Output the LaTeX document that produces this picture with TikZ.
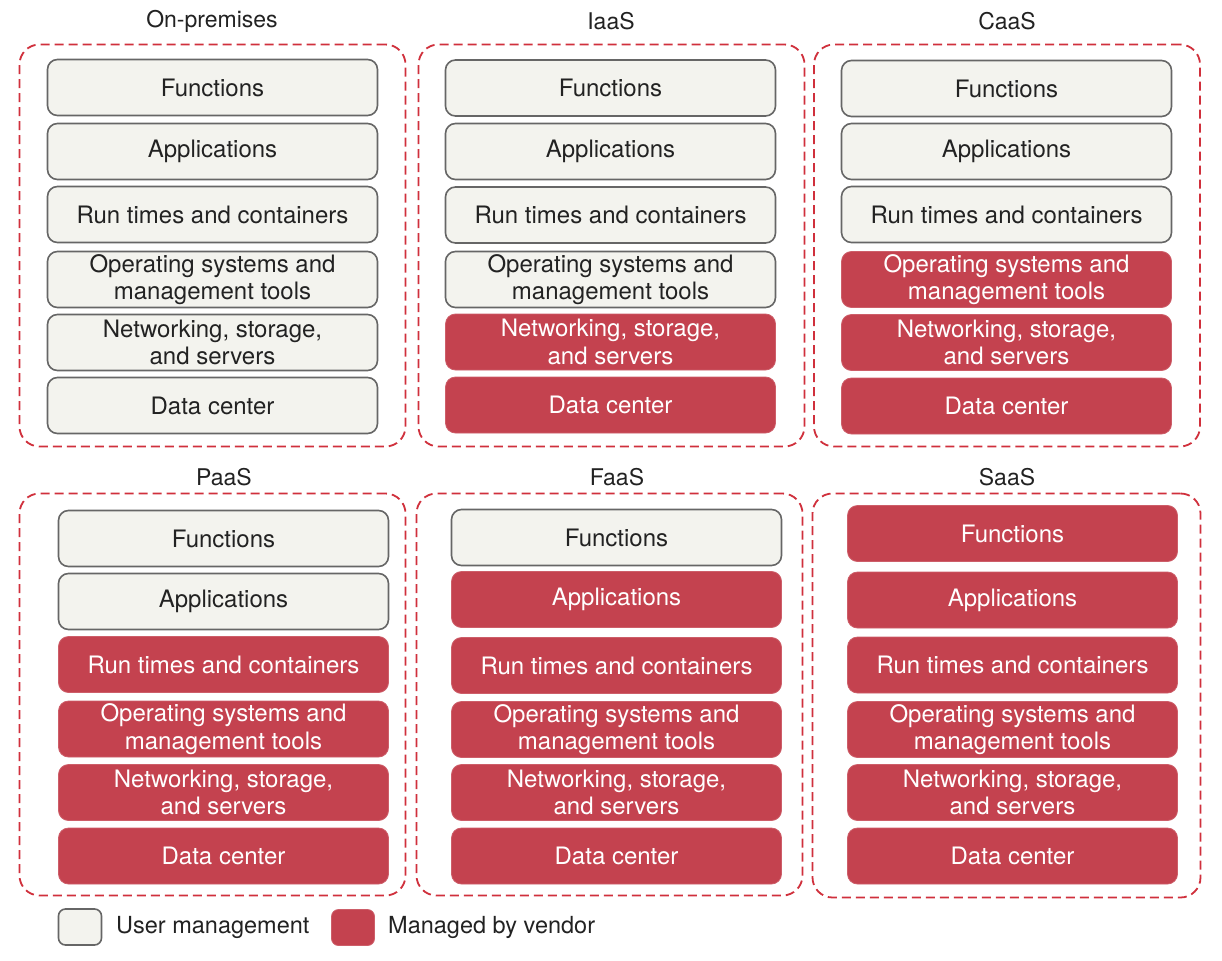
\documentclass[tikz,border=0pt]{standalone}
\usepackage{fontspec}
\setmainfont{TeX Gyre Heros}
\definecolor{vred}{HTML}{C4424F}
\definecolor{ufill}{HTML}{F3F3EE}
\definecolor{ugray}{HTML}{666666}
\definecolor{dred}{HTML}{D0303C}
\definecolor{txt}{HTML}{222222}
\tikzset{
  layer/.style={minimum width=330pt, minimum height=56pt, rounded corners=10pt, align=center, inner sep=0pt,
    font=\fontsize{24}{27.5}\selectfont},
  usr/.style={layer, fill=ufill, draw=ugray, line width=1.6pt, text=txt},
  vnd/.style={layer, fill=vred, draw=vred!85!white, line width=0.8pt, text=white},
  panel/.style={draw=dred, dash pattern=on 9pt off 5pt, line width=1.8pt, rounded corners=20pt,
    minimum width=386pt, minimum height=402pt, inner sep=0pt},
  ptitle/.style={font=\fontsize{23}{27}\selectfont, text=txt},
  legbox/.style={minimum width=43pt, minimum height=36pt, rounded corners=7pt, inner sep=0pt},
  legtext/.style={font=\fontsize{23.5}{27.5}\selectfont, text=txt, anchor=west, inner sep=0pt},
}
\def\tFun{Functions}
\def\tApp{Applications}
\def\tRun{Run times and containers}
\def\tOps{Operating systems and\\management tools}
\def\tNet{Networking, storage,\\and servers}
\def\tDat{Data center}
\begin{document}
\begin{tikzpicture}[x=1pt,y=-1pt]
\useasboundingbox[fill=white] (0,0) rectangle (1222,960);

% panels
\node[panel] (P1) at (212.5,245.5) {};
\node[panel] (P2) at (611.5,245.5) {};
\node[panel] (P3) at (1007,245.5) {};
\node[panel] (P4) at (212.5,694.5) {};
\node[panel] (P5) at (609.5,694.5) {};
\node[panel, minimum width=388pt, minimum height=404pt] (P6) at (1006.5,695.5) {};

% titles
\node[ptitle] (T1) at (212,21) {On-premises};
\node[ptitle] (T2) at (611,21) {IaaS};
\node[ptitle] (T3) at (1007,21) {CaaS};
\node[ptitle] (T4) at (224,477) {PaaS};
\node[ptitle] (T5) at (617,477) {FaaS};
\node[ptitle] (T6) at (1007,477) {SaaS};

% On-premises
\foreach \y/\s/\t [count=\i] in {87.5/usr/\tFun,151.5/usr/\tApp,214.5/usr/\tRun,279.5/usr/\tOps,342.5/usr/\tNet,405.5/usr/\tDat}
  \node[\s] (a\i) at (212.5,\y) {\t};
% IaaS
\foreach \y/\s/\t [count=\i] in {88/usr/\tFun,151.5/usr/\tApp,215/usr/\tRun,279.5/usr/\tOps,342/vnd/\tNet,405/vnd/\tDat}
  \node[\s] (b\i) at (610.5,\y) {\t};
% CaaS
\foreach \y/\s/\t [count=\i] in {88.5/usr/\tFun,151.5/usr/\tApp,214.5/usr/\tRun,279.5/vnd/\tOps,342.5/vnd/\tNet,406/vnd/\tDat}
  \node[\s] (c\i) at (1006.5,\y) {\t};
% PaaS
\foreach \y/\s/\t [count=\i] in {538.5/usr/\tFun,601.5/usr/\tApp,664.5/vnd/\tRun,729/vnd/\tOps,792.5/vnd/\tNet,856/vnd/\tDat}
  \node[\s] (d\i) at (223.5,\y) {\t};
% FaaS
\foreach \y/\s/\t [count=\i] in {537.5/usr/\tFun,599.5/vnd/\tApp,665.5/vnd/\tRun,729.5/vnd/\tOps,792.5/vnd/\tNet,856/vnd/\tDat}
  \node[\s] (e\i) at (616.5,\y) {\t};
% SaaS
\foreach \y/\s/\t [count=\i] in {533.5/vnd/\tFun,600/vnd/\tApp,665/vnd/\tRun,729.5/vnd/\tOps,792.5/vnd/\tNet,856/vnd/\tDat}
  \node[\s] (f\i) at (1012.5,\y) {\t};

% legend
\node[usr, legbox] (L1) at (80,927) {};
\node[legtext] (L1t) at (116,927) {User management};
\node[vnd, legbox] (L2) at (353,927.5) {};
\node[legtext] (L2t) at (388,927.5) {Managed by vendor};
\end{tikzpicture}
\end{document}
